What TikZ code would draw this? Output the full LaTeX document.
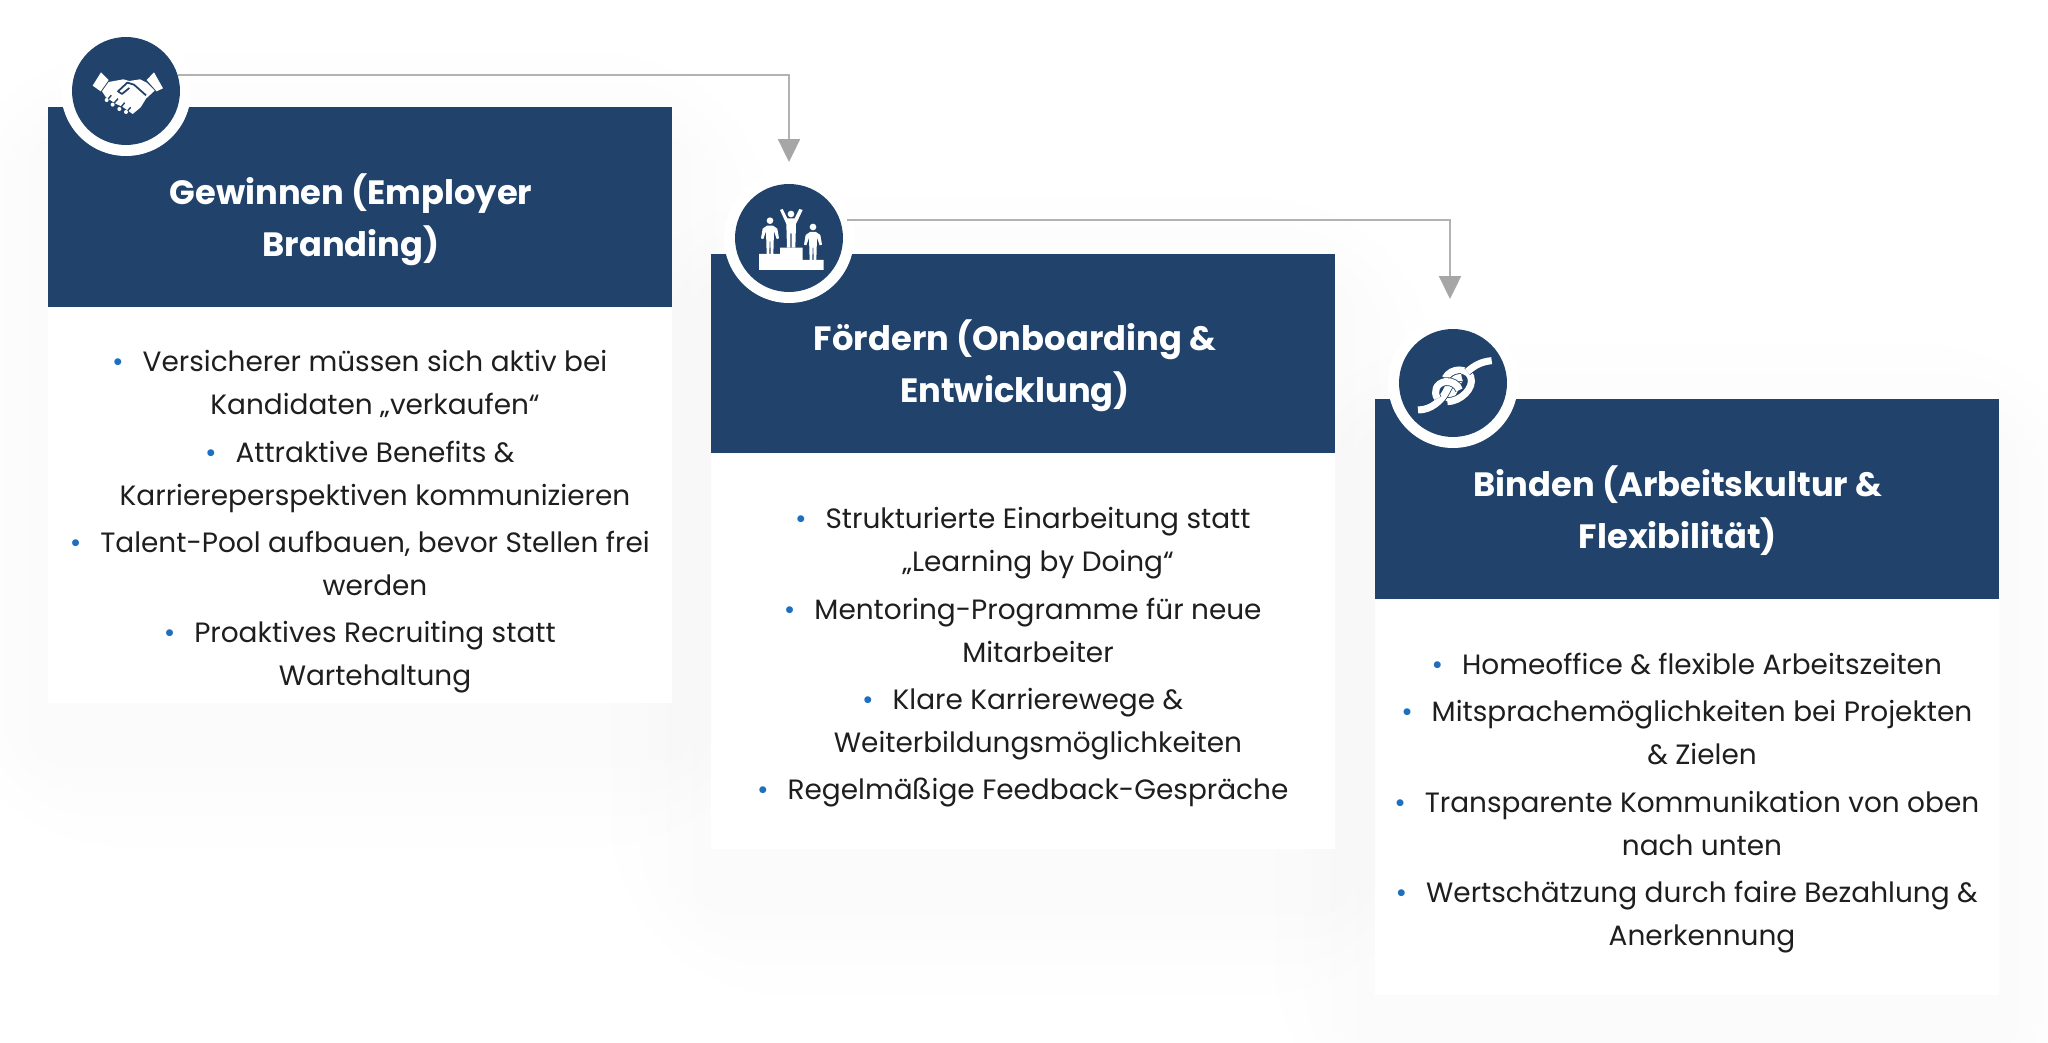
\documentclass[tikz,border=0pt]{standalone}
\usepackage{fontspec}
\setmainfont{Poppins}
\usetikzlibrary{calc,positioning,arrows.meta}
\definecolor{navy}{HTML}{20426B}
\definecolor{flowgrey}{HTML}{B2B2B2}
\definecolor{tipgrey}{HTML}{A6A6A6}
\definecolor{dotblue}{HTML}{1F6FBF}
\definecolor{inktext}{HTML}{1E1E1E}
\def\softshadow(#1)(#2){\foreach \d in {20,45,70,100} {\fill[black,opacity=0.003,rounded corners=\d] ($(#1)+(-\d,45-\d)$) rectangle ($(#2)+(\d,45+\d)$);}}
\def\dotitem{\llap{\textcolor{dotblue}{•}\hspace{10.8pt}}}
\def\podiumman(#1,#2){
	\fill[white] (#1,#2) circle (10);
	\fill[white] ($(#1,#2)+(-9,15)$) -- ($(#1,#2)+(9,15)$) -- ($(#1,#2)+(22,24)$) -- ($(#1,#2)+(27,53)$) -- ($(#1,#2)+(20,55)$) -- ($(#1,#2)+(12,32)$) -- ($(#1,#2)+(10,100)$) -- ($(#1,#2)+(2,100)$) -- ($(#1,#2)+(1,62)$) -- ($(#1,#2)+(-1,62)$) -- ($(#1,#2)+(-2,100)$) -- ($(#1,#2)+(-10,100)$) -- ($(#1,#2)+(-12,32)$) -- ($(#1,#2)+(-20,55)$) -- ($(#1,#2)+(-27,53)$) -- ($(#1,#2)+(-22,24)$) -- cycle;
}
\tikzset{
	headbox/.style={fill=navy,minimum width=12.48cm,minimum height=4cm,inner sep=0pt},
	bodybox/.style={fill=white,minimum width=12.48cm,minimum height=7.9cm,inner sep=0pt},
	ringdot/.style={circle,fill=white,minimum size=2.6cm,inner sep=0pt},
	icondot/.style={circle,fill=navy,minimum size=2.16cm,inner sep=0pt},
	titletext/.style={text=white,align=center,inner sep=0pt,font=\fontsize{19.2}{29.5}\selectfont\bfseries},
	itemtext/.style={text=inktext,align=center,inner sep=0pt,font=\fontsize{15.9}{24.4}\selectfont},
	flowline/.style={draw=flowgrey,line width=1.1pt,-{Triangle[length=13pt,width=12.5pt,color=tipgrey]}},
	rope/.style={preaction={draw=navy,line width=4.9pt},draw=white,line width=4pt}
}
\begin{document}
\begin{tikzpicture}[x=0.02cm,y=-0.02cm]
	\useasboundingbox (0,0) rectangle (2048,1043);
	
	%%%%% SHADOWS %%%%%
	\softshadow(48,107)(672,702)
	\softshadow(711,253)(1335,850)
	\softshadow(1375,399)(1998,994)
	
	%%%%% CARDS %%%%%
	\node[headbox] (headA) at (360,207) {};
	\node[bodybox,below=0pt of headA] (bodyA) {};
	\node[headbox] (headB) at (1023,353.5) {};
	\node[bodybox,below=0pt of headB] (bodyB) {};
	\node[headbox] (headC) at (1687,499) {};
	\node[bodybox,below=0pt of headC] (bodyC) {};
	
	\node[ringdot] (ringA) at (126,91) {};
	\node[icondot] (iconA) at (126,91) {};
	\node[ringdot] (ringB) at (789,238) {};
	\node[icondot] (iconB) at (789,238) {};
	\node[ringdot] (ringC) at (1453,383) {};
	\node[icondot] (iconC) at (1453,383) {};
	
	%%%%% HANDSHAKE %%%%%
	\begin{scope}[shift={(40,20)},scale=1/3]
		\fill[white] (158,197) -- (183,157) -- (206,180) -- (182,214) -- cycle;
		\fill[white] (320,180) -- (342,157) -- (369,205) -- (350,214) -- cycle;
		\fill[white] (206,186) -- (250,178) -- (268,183) -- (300,178) -- (320,188) -- (344,212) -- (318,236) -- (302,262) -- (278,282) -- (250,262) -- (225,250) -- (198,232) -- (186,214) -- cycle;
		\draw[navy,line width=1pt,line join=round] (318,226) -- (282,194) -- (262,188) -- (234,214) -- (246,222) -- (268,204);
		\draw[navy,line width=0.8pt] (214,226) -- (200,242) (234,236) -- (218,254) (254,248) -- (238,268) (272,262) -- (258,278);
		\fill[white] (200,240) circle (6) (218,254) circle (6) (238,267) circle (6) (258,276) circle (6);
	\end{scope}
	
	%%%%% PODIUM %%%%%
	\begin{scope}[shift={(700,160)},scale=1/3]
		\podiumman(210,182)
		\podiumman(339,201)
		\fill[white] (273,162) circle (10);
		\fill[white] (240,150) -- (248,147) -- (262,175) -- (284,175) -- (298,147) -- (308,150) -- (288,192) -- (286,263) -- (275,263) -- (275,220) -- (271,220) -- (271,263) -- (261,263) -- (259,192) -- cycle;
		\fill[white] (177,282) -- (240,282) -- (240,263) -- (308,263) -- (308,300) -- (371,300) -- (371,330) -- (177,330) -- cycle;
	\end{scope}
	
	%%%%% KNOT %%%%%
	\begin{scope}[shift={(1360,270)},scale=1/3]
		\draw[rope] (300,325) .. controls (288,345) and (280,372) .. (262,395);
		\draw[rope] (262,395) .. controls (300,395) and (345,355) .. (332,320) .. controls (322,295) and (275,290) .. (255,325);
		\draw[rope] (174,420) .. controls (215,420) and (245,390) .. (258,365) .. controls (270,340) and (285,320) .. (305,322);
		\draw[rope] (232,385) .. controls (220,365) and (228,340) .. (255,335) .. controls (275,332) and (295,345) .. (298,360);
		\draw[rope] (395,272) .. controls (365,275) and (345,285) .. (322,305);
	\end{scope}
	
	%%%%% CONNECTORS %%%%%
	\coordinate (tipA) at (789,162);
	\coordinate (tipB) at (1450,299);
	\draw[flowline] (iconA.17) -| (tipA);
	\draw[flowline] ([xshift=4pt]iconB.19) -| (tipB);
	
	%%%%% TEXT %%%%%
	\node[titletext] (titleA) at (351,220) {Gewinnen (Employer\\Branding)};
	\node[titletext] (titleB) at (1015,366) {Fördern (Onboarding \&\\Entwicklung)};
	\node[titletext] (titleC) at (1678,511) {Binden (Arbeitskultur \&\\Flexibilität)};
	
	\node[itemtext] (textA) at (375,522) {\dotitem Versicherer müssen sich aktiv bei\\Kandidaten „verkaufen“\\[2.6pt]
		\dotitem Attraktive Benefits \&\\Karriereperspektiven kommunizieren\\[2.6pt]
		\dotitem Talent-Pool aufbauen, bevor Stellen frei\\werden\\[2.6pt]
		\dotitem Proaktives Recruiting statt\\Wartehaltung};
	\node[itemtext] (textB) at (1038,657.5) {\dotitem Strukturierte Einarbeitung statt\\„Learning by Doing“\\[2.6pt]
		\dotitem Mentoring-Programme für neue\\Mitarbeiter\\[2.6pt]
		\dotitem Klare Karrierewege \&\\Weiterbildungsmöglichkeiten\\[2.6pt]
		\dotitem Regelmäßige Feedback-Gespräche};
	\node[itemtext] (textC) at (1702,803) {\dotitem Homeoffice \& flexible Arbeitszeiten\\[2.6pt]
		\dotitem Mitsprachemöglichkeiten bei Projekten\\\& Zielen\\[2.6pt]
		\dotitem Transparente Kommunikation von oben\\nach unten\\[2.6pt]
		\dotitem Wertschätzung durch faire Bezahlung \&\\Anerkennung};
\end{tikzpicture}
\end{document}
